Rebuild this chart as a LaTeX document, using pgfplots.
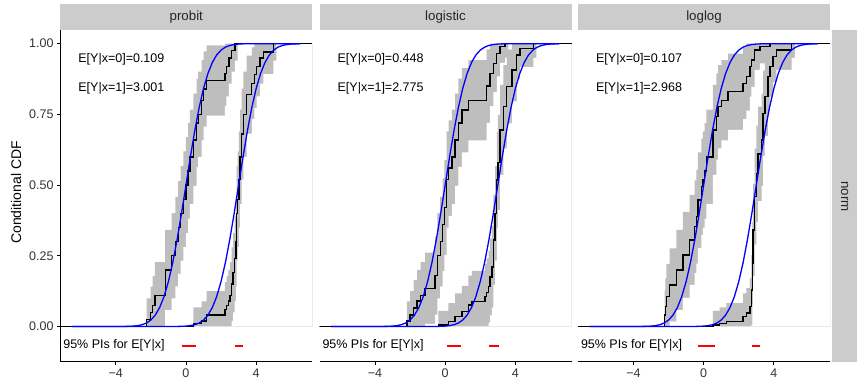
\documentclass[border=0pt]{standalone}
\usepackage{fontspec}
\setmainfont{Liberation Sans}
\usepackage{pgfplots}
\usepackage{pgfplotstable}
\pgfplotsset{compat=1.18}

\definecolor{bandgray}{RGB}{190,190,190}
\definecolor{stripgray}{RGB}{204,204,204}
\definecolor{cdfblue}{RGB}{0,0,255}
\definecolor{pired}{RGB}{255,0,0}

% ---- empirical CDFs with bands (x, ecdf, lower, upper) ----
\pgfplotstableread{
x y lo hi
-7.2 0 0 0
-2.24 0.025 0 0.099
-2.01 0.05 0 0.141
-1.9 0.075 0 0.179
-1.77 0.11 0 0.228
-1.18 0.20 0.058 0.342
-0.82 0.25 0.099 0.401
-0.6 0.30 0.142 0.458
-0.44 0.35 0.186 0.514
-0.3 0.40 0.233 0.567
-0.15 0.45 0.281 0.619
0.0 0.50 0.33 0.67
0.12 0.55 0.381 0.719
0.23 0.60 0.433 0.767
0.42 0.66 0.497 0.823
0.61 0.72 0.564 0.876
0.7 0.75 0.599 0.901
0.89 0.80 0.658 0.942
1.0 0.84 0.707 0.973
1.18 0.87 0.746 0.994
2.22 0.895 0.779 1
2.3 0.92 0.814 1
2.45 0.95 0.859 1
2.6 0.975 0.901 1
2.79 1 0.94 1
2.95 1 1 1
7.2 1 1 1
}\pAa
\pgfplotstableread{
x y lo hi
-7.2 0 0 0
0.42 0.01 0 0.068
0.9 0.02 0 0.089
1.18 0.04 0 0.125
2.22 0.06 0 0.157
2.32 0.075 0 0.179
2.42 0.09 0 0.2
2.51 0.11 0 0.228
2.6 0.15 0.02 0.28
2.69 0.19 0.05 0.33
2.78 0.24 0.09 0.39
2.85 0.30 0.142 0.458
2.89 0.40 0.233 0.567
2.95 0.45 0.281 0.619
3.02 0.52 0.35 0.69
3.08 0.60 0.433 0.767
3.17 0.68 0.519 0.841
3.27 0.75 0.599 0.901
3.46 0.82 0.682 0.958
3.75 0.86 0.733 0.987
3.9 0.89 0.772 1
4.03 0.92 0.814 1
4.22 0.95 0.859 1
4.41 0.97 0.892 1
4.98 1 0.94 1
5.15 1 1 1
7.2 1 1 1
}\pAb
\pgfplotstableread{
x y lo hi
-7.2 0 0 0
-2.18 0.02 0 0.089
-2.0 0.04 0 0.125
-1.8 0.065 0 0.164
-1.6 0.09 0 0.2
-1.4 0.11 0 0.228
-1.14 0.135 0.009 0.261
-0.57 0.18 0.042 0.318
-0.45 0.25 0.099 0.401
-0.28 0.30 0.142 0.458
-0.15 0.36 0.196 0.524
-0.05 0.42 0.252 0.588
0.09 0.52 0.35 0.69
0.2 0.56 0.391 0.729
0.38 0.60 0.433 0.767
0.57 0.66 0.497 0.823
0.76 0.72 0.564 0.876
0.95 0.765 0.616 0.914
1.33 0.80 0.658 0.942
2.37 0.85 0.72 0.98
2.56 0.895 0.779 1
2.75 0.93 0.829 1
2.94 0.965 0.884 1
3.13 0.99 0.932 1
3.42 1 0.95 1
3.6 1 1 1
7.2 1 1 1
}\pBa
\pgfplotstableread{
x y lo hi
-7.2 0 0 0
-0.38 0.005 0 0.055
0.19 0.017 0 0.083
0.57 0.035 0 0.117
0.95 0.052 0 0.144
1.33 0.076 0 0.18
1.52 0.088 0 0.197
2.28 0.105 0 0.221
2.37 0.12 0 0.241
2.47 0.141 0.014 0.268
2.56 0.175 0.039 0.311
2.66 0.211 0.067 0.355
2.75 0.306 0.147 0.465
2.85 0.40 0.233 0.567
2.94 0.518 0.348 0.688
3.0 0.58 0.412 0.748
3.13 0.695 0.536 0.854
3.32 0.777 0.63 0.924
3.51 0.848 0.718 0.979
3.8 0.907 0.796 1
4.08 0.96 0.875 1
4.27 0.983 0.917 1
5.03 1 0.95 1
5.2 1 1 1
7.2 1 1 1
}\pBb
\pgfplotstableread{
x y lo hi
-7.2 0 0 0
-2.23 0.041 0 0.127
-2.18 0.07 0 0.171
-2.13 0.105 0 0.221
-1.94 0.147 0.018 0.276
-1.56 0.20 0.058 0.342
-1.18 0.253 0.101 0.405
-0.8 0.306 0.147 0.465
-0.51 0.353 0.189 0.517
-0.42 0.388 0.222 0.554
-0.33 0.447 0.278 0.616
-0.13 0.494 0.324 0.664
-0.04 0.52 0.35 0.69
0.06 0.55 0.381 0.719
0.15 0.60 0.433 0.767
0.53 0.695 0.536 0.854
0.72 0.742 0.59 0.895
0.82 0.777 0.63 0.924
1.01 0.80 0.658 0.942
1.39 0.83 0.695 0.965
2.25 0.86 0.733 0.987
2.44 0.883 0.763 1
2.63 0.919 0.813 1
2.72 0.942 0.847 1
2.91 0.978 0.907 1
3.2 0.989 0.93 1
3.77 1 0.95 1
3.9 1 1 1
7.2 1 1 1
}\pCa
\pgfplotstableread{
x y lo hi
-7.2 0 0 0
0.53 0.005 0 0.055
0.91 0.01 0 0.068
1.3 0.017 0 0.083
2.25 0.035 0 0.117
2.44 0.047 0 0.136
2.63 0.07 0 0.171
2.72 0.129 0.005 0.253
2.78 0.224 0.077 0.371
2.82 0.341 0.178 0.504
2.91 0.459 0.29 0.629
3.01 0.54 0.37 0.71
3.1 0.61 0.443 0.777
3.3 0.66 0.497 0.823
3.39 0.754 0.603 0.905
3.49 0.813 0.674 0.952
3.67 0.883 0.763 1
3.77 0.919 0.813 1
3.96 0.954 0.865 1
4.15 0.978 0.907 1
5.01 1 0.95 1
5.2 1 1 1
7.2 1 1 1
}\pCb

% ---- model CDFs (blue) ----
\pgfplotstableread{
x y
-6.5 0
-3.5 0.00023
-3.25 0.00058
-3.0 0.00135
-2.75 0.00298
-2.5 0.00621
-2.25 0.01222
-2.0 0.02275
-1.75 0.04006
-1.5 0.06681
-1.25 0.10565
-1.0 0.15866
-0.75 0.22663
-0.5 0.30854
-0.25 0.40129
0.0 0.5
0.25 0.59871
0.5 0.69146
0.75 0.77337
1.0 0.84134
1.25 0.89435
1.5 0.93319
1.75 0.95994
2.0 0.97725
2.25 0.98778
2.5 0.99379
2.75 0.99702
3.0 0.99865
3.25 0.99942
3.5 0.99977
6.5 1
}\blueA
\pgfplotstableread{
x y
-6.5 0
-0.5 0.00023
-0.25 0.00058
0.0 0.00135
0.25 0.00298
0.5 0.00621
0.75 0.01222
1.0 0.02275
1.25 0.04006
1.5 0.06681
1.75 0.10565
2.0 0.15866
2.25 0.22663
2.5 0.30854
2.75 0.40129
3.0 0.5
3.25 0.59871
3.5 0.69146
3.75 0.77337
4.0 0.84134
4.25 0.89435
4.5 0.93319
4.75 0.95994
5.0 0.97725
5.25 0.98778
5.5 0.99379
5.75 0.99702
6.0 0.99865
6.25 0.99942
6.5 0.99977
}\blueB

\tikzset{ann/.style={font=\fontsize{12.5}{14}\selectfont, anchor=west, inner sep=0pt}}

\pgfplotsset{
  panel/.style={
    scale only axis, width=252pt, height=331.7pt,
    anchor=south west,
    xmin=-7.16, xmax=7.2, ymin=-0.1245, ymax=1.0484,
    axis x line*=bottom,
    xtick={-4,0,4}, xticklabels={−4,0,4},
    tick align=outside, major tick length=3.3pt,
    tick style={black, line width=0.9pt},
    axis line style={black, line width=0.9pt},
    tick label style={font=\fontsize{12.5}{14}\selectfont, text=black!80},
  },
}

\newcommand{\drawpanel}[8]{%
  \addplot[fill=bandgray, draw=none, const plot, forget plot] table[x=x,y=hi]{#1} \closedcycle;
  \addplot[fill=white, draw=none, const plot, forget plot] table[x=x,y=lo]{#1} \closedcycle;
  \addplot[fill=bandgray, draw=none, const plot, forget plot] table[x=x,y=hi]{#2} \closedcycle;
  \addplot[fill=white, draw=none, const plot, forget plot] table[x=x,y=lo]{#2} \closedcycle;
  \addplot[black, const plot, line width=1.4pt] table[x=x,y=y]{#1};
  \addplot[black, const plot, line width=1.4pt] table[x=x,y=y]{#2};
  \addplot[cdfblue, line width=1.3pt] table[x=x,y=y]{\blueA};
  \addplot[cdfblue, line width=1.3pt] table[x=x,y=y]{\blueB};
  \addplot[draw=pired, solid, mark=none, line width=1.8pt] coordinates {(#5,-0.068) (#6,-0.068)};
  \addplot[draw=pired, solid, mark=none, line width=1.8pt] coordinates {(#7,-0.068) (#8,-0.068)};
  \node[ann] at (axis cs:-7.0,-0.068) {95\% PIs for E[Y|x]};
  #4
}

\begin{document}
\begin{tikzpicture}
\useasboundingbox (0,0) rectangle (857pt,379pt);

\begin{axis}[panel, at={(60.3pt,17.3pt)},
  axis y line*=left,
  ytick={0,0.25,0.5,0.75,1},
  yticklabels={0.00,0.25,0.50,0.75,1.00}]
  \drawpanel{\pAa}{\pAb}{a}{%
    \node[ann] at (axis cs:-6.14,0.946) {E[Y|x=0]=0.109};
    \node[ann] at (axis cs:-6.14,0.844) {E[Y|x=1]=3.001};}%
    {-0.25}{0.57}{2.79}{3.26}
\end{axis}

\begin{axis}[panel, at={(319.5pt,17.3pt)}, axis y line=none, ytick=\empty]
  \drawpanel{\pBa}{\pBb}{b}{%
    \node[ann] at (axis cs:-6.14,0.946) {E[Y|x=0]=0.448};
    \node[ann] at (axis cs:-6.14,0.844) {E[Y|x=1]=2.775};}%
    {0.10}{0.91}{2.51}{3.08}
\end{axis}

\begin{axis}[panel, at={(578pt,17.3pt)}, axis y line=none, ytick=\empty]
  \drawpanel{\pCa}{\pCb}{c}{%
    \node[ann] at (axis cs:-6.14,0.946) {E[Y|x=0]=0.107};
    \node[ann] at (axis cs:-6.14,0.844) {E[Y|x=1]=2.968};}%
    {-0.33}{0.67}{2.76}{3.20}
\end{axis}

% facet strips
\fill[stripgray] (60.3pt,349pt) rectangle (312.3pt,375pt);
\fill[stripgray] (319.5pt,349pt) rectangle (571.5pt,375pt);
\fill[stripgray] (578pt,349pt) rectangle (830pt,375pt);
\fill[stripgray] (832.3pt,17.3pt) rectangle (857pt,349pt);
\node[font=\fontsize{13.3}{15}\selectfont, text=black!85] at (186.3pt,362pt) {probit};
\node[font=\fontsize{13.3}{15}\selectfont, text=black!85] at (445.5pt,362pt) {logistic};
\node[font=\fontsize{13.3}{15}\selectfont, text=black!85] at (704pt,362pt) {loglog};
\node[font=\fontsize{13.3}{15}\selectfont, text=black!85, rotate=-90] at (844.6pt,182.5pt) {norm};
\node[font=\fontsize{14}{16}\selectfont, rotate=90] at (16pt,186.5pt) {Conditional CDF};
\end{tikzpicture}
\end{document}
